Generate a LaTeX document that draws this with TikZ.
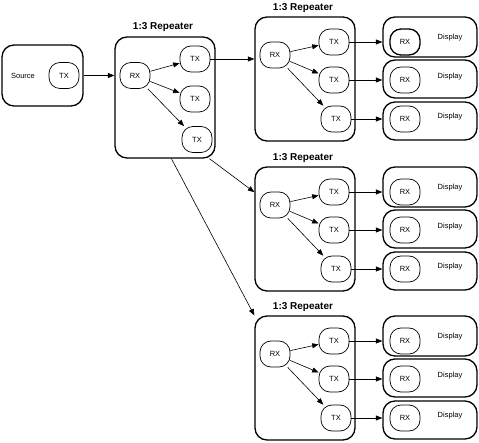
\documentclass[tikz,border=0pt]{standalone}
\usepackage{fontspec}
\setmainfont{Liberation Sans}
\usepackage{tikz}
\usetikzlibrary{arrows.meta}
\tikzset{frame/.style={draw, line width=1.3pt, rounded corners=12pt, inner sep=0pt}}
\tikzset{blob/.style={draw, line width=.7pt, rounded corners=11pt, minimum width=30pt,
  minimum height=26pt, inner sep=0pt, font=\fontsize{7.5}{9}\selectfont}}
\tikzset{lbl/.style={inner sep=0pt, font=\fontsize{7.5}{9}\selectfont}}
\tikzset{title/.style={inner sep=0pt, font=\fontsize{10}{12}\selectfont\bfseries}}
\tikzset{link/.style={line width=.6pt, ->, >={Triangle[length=6.5pt,width=5pt]}}}

\begin{document}
\begin{tikzpicture}[x=1pt, y=-1pt]
\useasboundingbox (0,0) rectangle (479,443);

% source
\node[frame, minimum width=81pt, minimum height=61pt] (src) at (42.5, 75.5) {};
\node[lbl] (srclbl) at (23, 76) {Source};
\node[blob] (srctx) at (64, 75.5) {TX};

% first repeater
\node[frame, minimum width=100pt, minimum height=121pt] (r1) at (165, 97.5) {};
\node[title] (r1t) at (163, 27) {1:3 Repeater};
\node[blob] (r1rx) at (135, 75.5) {RX};
\node[blob] (r1tx1) at (195, 59) {TX};
\node[blob] (r1tx2) at (195, 99) {TX};
\node[blob] (r1tx3) at (197, 139.5) {TX};
\draw[link] (src) -- (src -| r1.west);
\draw[link] (r1rx) -- (r1tx1);
\draw[link] (r1rx) -- (r1tx2);
\draw[link] (r1rx) -- (r1tx3);

% repeater 1 of 3
\node[frame, minimum width=100pt, minimum height=124pt] (g1) at (305, 79) {};
\node[title] (g1t) at (303, 8) {1:3 Repeater};
\node[blob] (g1rx) at (275, 55) {RX};
\node[blob] (g1tx1) at (334, 42) {TX};
\node[blob] (g1tx2) at (334, 80) {TX};
\node[blob] (g1tx3) at (336, 119) {TX};
\draw[link] (g1rx) -- (g1tx1);
\draw[link] (g1rx) -- (g1tx2);
\draw[link] (g1rx) -- (g1tx3);
\node[frame, minimum width=94pt, minimum height=40pt] (g1d1) at (430, 37) {};
\node[frame, minimum width=94pt, minimum height=38pt] (g1d2) at (430, 79) {};
\node[frame, minimum width=94pt, minimum height=38pt] (g1d3) at (430, 121) {};
\node[blob, line width=1.3pt] (g1drx1) at (405, 42) {RX};
\node[blob] (g1drx2) at (405, 80) {RX};
\node[blob] (g1drx3) at (405, 119) {RX};
\node[lbl] (g1dl1) at (450, 38) {Display};
\node[lbl] (g1dl2) at (450, 77) {Display};
\node[lbl] (g1dl3) at (450, 117) {Display};
\draw[link] (g1tx1.east) -- (g1tx1.east -| g1d1.west);
\draw[link] (g1tx2.east) -- (g1tx2.east -| g1d2.west);
\draw[link] (g1tx3.east) -- (g1tx3.east -| g1d3.west);

% repeater 2 of 3
\node[frame, minimum width=100pt, minimum height=124pt] (g2) at (305, 229) {};
\node[title] (g2t) at (303, 158) {1:3 Repeater};
\node[blob] (g2rx) at (275, 205) {RX};
\node[blob] (g2tx1) at (334, 192) {TX};
\node[blob] (g2tx2) at (334, 230) {TX};
\node[blob] (g2tx3) at (336, 269) {TX};
\draw[link] (g2rx) -- (g2tx1);
\draw[link] (g2rx) -- (g2tx2);
\draw[link] (g2rx) -- (g2tx3);
\node[frame, minimum width=94pt, minimum height=40pt] (g2d1) at (430, 187) {};
\node[frame, minimum width=94pt, minimum height=38pt] (g2d2) at (430, 229) {};
\node[frame, minimum width=94pt, minimum height=38pt] (g2d3) at (430, 271) {};
\node[blob] (g2drx1) at (405, 192) {RX};
\node[blob] (g2drx2) at (405, 230) {RX};
\node[blob] (g2drx3) at (405, 269) {RX};
\node[lbl] (g2dl1) at (450, 188) {Display};
\node[lbl] (g2dl2) at (450, 227) {Display};
\node[lbl] (g2dl3) at (450, 267) {Display};
\draw[link] (g2tx1.east) -- (g2tx1.east -| g2d1.west);
\draw[link] (g2tx2.east) -- (g2tx2.east -| g2d2.west);
\draw[link] (g2tx3.east) -- (g2tx3.east -| g2d3.west);

% repeater 3 of 3
\node[frame, minimum width=100pt, minimum height=124pt] (g3) at (305, 378) {};
\node[title] (g3t) at (303, 307) {1:3 Repeater};
\node[blob] (g3rx) at (275, 354) {RX};
\node[blob] (g3tx1) at (334, 341) {TX};
\node[blob] (g3tx2) at (334, 379) {TX};
\node[blob] (g3tx3) at (336, 418) {TX};
\draw[link] (g3rx) -- (g3tx1);
\draw[link] (g3rx) -- (g3tx2);
\draw[link] (g3rx) -- (g3tx3);
\node[frame, minimum width=94pt, minimum height=40pt] (g3d1) at (430, 336) {};
\node[frame, minimum width=94pt, minimum height=38pt] (g3d2) at (430, 378) {};
\node[frame, minimum width=94pt, minimum height=38pt] (g3d3) at (430, 420) {};
\node[blob] (g3drx1) at (405, 341) {RX};
\node[blob] (g3drx2) at (405, 379) {RX};
\node[blob] (g3drx3) at (405, 418) {RX};
\node[lbl] (g3dl1) at (450, 337) {Display};
\node[lbl] (g3dl2) at (450, 376) {Display};
\node[lbl] (g3dl3) at (450, 416) {Display};
\draw[link] (g3tx1.east) -- (g3tx1.east -| g3d1.west);
\draw[link] (g3tx2.east) -- (g3tx2.east -| g3d2.west);
\draw[link] (g3tx3.east) -- (g3tx3.east -| g3d3.west);

% fan out from the first repeater
\draw[link] (r1tx1.east) -- (r1tx1.east -| g1.west);
\draw[link] (r1.-54.6) -- (g2.144.2);
\draw[link] (r1.-84) -- (g3.129.8);
\end{tikzpicture}
\end{document}
